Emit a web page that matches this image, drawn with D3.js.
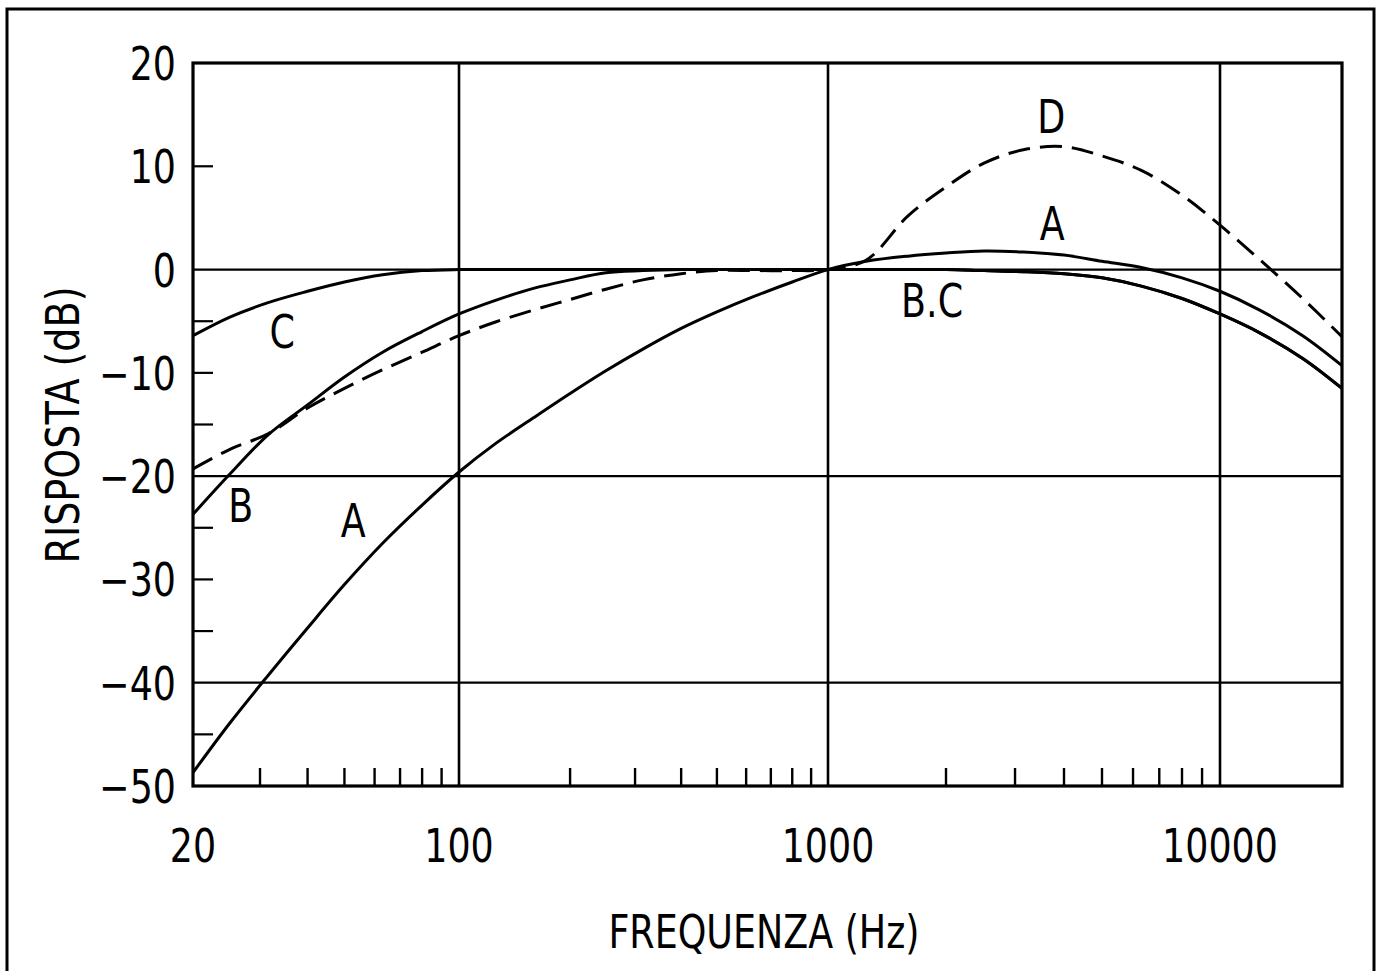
<!DOCTYPE html>
<html>
<head>
<meta charset="utf-8">
<script src="https://cdn.jsdelivr.net/npm/d3@7"></script>
<style>
  body { margin: 0; background: #fff; }
  text { font-family: "Liberation Sans Narrow", "DejaVu Sans Condensed", sans-serif; fill: #000; }
</style>
</head>
<body>
<div id="chart"></div>
<script>
// frequencies shared by all four weighting curves (Hz)
var freqs = [20, 25, 31.5, 40, 50, 63, 80, 100, 125, 160, 200, 250, 315, 400, 500, 630, 800,
             1000, 1250, 1600, 2000, 2500, 3150, 4000, 5000, 6300, 8000, 10000, 12500, 16000, 20000];

// response in dB
var curveA = [-48.7, -43.9, -39.3, -34.7, -30.5, -26.5, -22.8, -19.6, -16.9, -14.3, -12.0, -9.8, -7.7, -5.7, -4.1, -2.6, -1.2,
              0, 0.8, 1.3, 1.6, 1.8, 1.7, 1.4, 0.8, 0.2, -0.8, -2.1, -3.9, -6.4, -9.3];
var curveB = [-23.7, -19.8, -16.0, -13.1, -10.4, -8.0, -6.0, -4.3, -3.0, -1.8, -1.0, -0.3, -0.1, 0, 0, 0, 0,
              0, 0, 0, 0, -0.1, -0.2, -0.4, -0.8, -1.6, -2.8, -4.3, -6.1, -8.6, -11.5];
var curveC = [-6.4, -4.6, -3.2, -2.1, -1.2, -0.5, -0.1, 0, 0, 0, 0, 0, 0, 0, 0, 0, 0,
              0, 0, 0, 0, -0.1, -0.2, -0.4, -0.8, -1.6, -2.8, -4.3, -6.1, -8.6, -11.5];
var curveD = [-19.3, -17.4, -15.9, -13.4, -11.5, -9.7, -8.0, -6.4, -5.1, -3.9, -2.9, -1.9, -1.0, -0.4, -0.1, -0.1, -0.1,
              0, 0.9, 5.2, 8.0, 10.3, 11.6, 11.9, 11.0, 9.6, 7.2, 4.3, 1.0, -2.8, -6.5];

var xTickLabels = [20, 100, 1000, 10000];
var xGrid = [100, 1000, 10000];
var xMinor = [30, 40, 50, 60, 70, 80, 90, 200, 300, 400, 500, 600, 700, 800, 900,
              2000, 3000, 4000, 5000, 6000, 7000, 8000, 9000];
var yTickLabels = [20, 10, 0, -10, -20, -30, -40, -50];
var yGrid = [0, -20, -40];
var yMinor = [10, -5, -10, -15, -25, -30, -35, -45];

// curve name, and where its letter sits (Hz, dB)
var curveLabels = [
  {t: "C", f: 34.3, v: -7.6},
  {t: "B", f: 26.7, v: -24.4},
  {t: "A", f: 52.7, v: -25.9},
  {t: "D", f: 3710, v: 13.2},
  {t: "A", f: 3730, v: 2.9},
  {t: "B.C", f: 1843, v: -4.6}
];

var W = 1387, H = 971;
var svg = d3.select("#chart").append("svg")
    .attr("width", W)
    .attr("height", H);

var plotL = 193, plotR = 1342, plotT = 63, plotB = 786;

// the scanned original isn't quite uniform per decade, so pin each decade
var x = d3.scaleLog()
    .domain([20, 100, 1000, 10000, 20000])
    .range([plotL, 459, 828, 1220, plotR]);
var y = d3.scaleLinear().domain([-50, 20]).range([plotB, plotT]);

// the original lettering is narrower than any installed font
function narrow(sel, k) {
  sel.each(function() {
    var n = this.getComputedTextLength();
    d3.select(this).attr("textLength", n * k).attr("lengthAdjust", "spacingAndGlyphs");
  });
}

// outer frame (open at the bottom)
svg.append("path")
    .attr("d", "M7," + H + "V9H1374V" + H)
    .attr("fill", "none").attr("stroke", "#000").attr("stroke-width", 3);

var g = svg.append("g");

// grid lines
g.selectAll(".vgrid").data(xGrid).enter().append("line")
    .attr("x1", function(d) { return x(d); }).attr("x2", function(d) { return x(d); })
    .attr("y1", plotT).attr("y2", plotB)
    .attr("stroke", "#000").attr("stroke-width", 2.6);
g.selectAll(".hgrid").data(yGrid).enter().append("line")
    .attr("x1", plotL).attr("x2", plotR)
    .attr("y1", function(d) { return y(d); }).attr("y2", function(d) { return y(d); })
    .attr("stroke", "#000").attr("stroke-width", 2.2);

// minor ticks, pointing inward
g.selectAll(".xminor").data(xMinor).enter().append("line")
    .attr("x1", function(d) { return x(d); }).attr("x2", function(d) { return x(d); })
    .attr("y1", plotB).attr("y2", plotB - 18)
    .attr("stroke", "#000").attr("stroke-width", 2.4);
g.selectAll(".yminor").data(yMinor).enter().append("line")
    .attr("x1", plotL).attr("x2", plotL + 20)
    .attr("y1", function(d) { return y(d); }).attr("y2", function(d) { return y(d); })
    .attr("stroke", "#000").attr("stroke-width", 2.2);

// plot frame
g.append("rect")
    .attr("x", plotL).attr("y", plotT)
    .attr("width", plotR - plotL).attr("height", plotB - plotT)
    .attr("fill", "none").attr("stroke", "#000").attr("stroke-width", 3.2);

// tick labels
g.selectAll(".xlab").data(xTickLabels).enter().append("text")
    .attr("x", function(d) { return x(d); })
    .attr("y", 862)
    .attr("text-anchor", "middle")
    .attr("font-size", 46)
    .text(function(d) { return d; })
    .call(narrow, 0.88);
g.selectAll(".ylab").data(yTickLabels).enter().append("text")
    .attr("x", 176)
    .attr("y", function(d) { return y(d) + 17; })
    .attr("text-anchor", "end")
    .attr("font-size", 46)
    .text(function(d) { return d < 0 ? "\u2212" + (-d) : d; })
    .call(narrow, 0.88);

// axis titles
svg.append("text")
    .attr("x", 764).attr("y", 948)
    .attr("text-anchor", "middle")
    .attr("font-size", 46)
    .text("FREQUENZA (Hz)")
    .call(narrow, 0.88);
svg.append("text")
    .attr("transform", "translate(79,425) rotate(-90)")
    .attr("text-anchor", "middle")
    .attr("font-size", 46)
    .text("RISPOSTA (dB)")
    .call(narrow, 0.92);

// curves
var line = d3.line()
    .x(function(d) { return x(d[0]); })
    .y(function(d) { return y(d[1]); })
    .curve(d3.curveCatmullRom.alpha(0.5));

var series = [
  {vals: curveA, dash: null},
  {vals: curveB, dash: null},
  {vals: curveC, dash: null},
  {vals: curveD, dash: "22,10"}
];

g.selectAll(".curve").data(series).enter().append("path")
    .attr("class", "curve")
    .attr("d", function(s) { return line(d3.zip(freqs, s.vals)); })
    .attr("fill", "none")
    .attr("stroke", "#000")
    .attr("stroke-width", 3)
    .attr("stroke-dasharray", function(s) { return s.dash; });

// curve letters
g.selectAll(".clab").data(curveLabels).enter().append("text")
    .attr("x", function(d) { return x(d.f); })
    .attr("y", function(d) { return y(d.v); })
    .attr("text-anchor", "middle")
    .attr("font-size", 46)
    .text(function(d) { return d.t; })
    .call(narrow, 0.88);
</script>
</body>
</html>
